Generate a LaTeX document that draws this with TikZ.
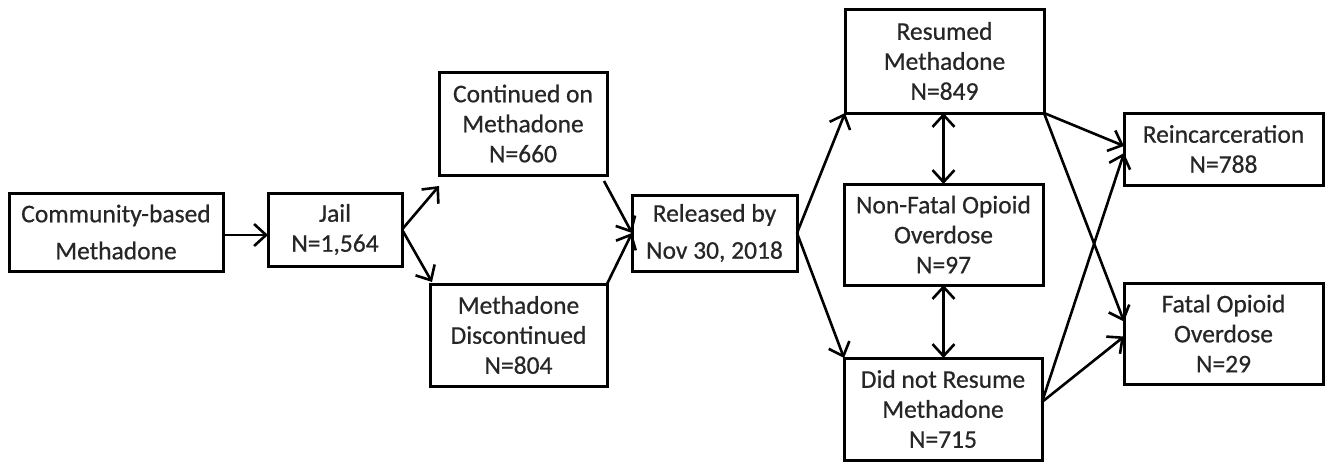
\documentclass[tikz,border=0pt]{standalone}
\usepackage{fontspec}
\setmainfont{Carlito}[FakeBold=0.6]
\usetikzlibrary{arrows.meta}
\begin{document}
\begin{tikzpicture}[x=1pt,y=-1pt,
  box/.style={draw, line width=3pt, inner sep=0pt, outer sep=0pt, align=center,
    text=black!85, font=\fontsize{25.5}{30}\selectfont},
  wide/.style={font=\fontsize{25.5}{37}\selectfont},
  arr/.style={line width=2.6pt, -{Straight Barb[length=12pt,width=22pt]}},
  dbl/.style={line width=2.6pt, {Straight Barb[length=12pt,width=22pt]}-{Straight Barb[length=12pt,width=22pt]}}]
\useasboundingbox (0,0) rectangle (1333,464);
\node[box,wide,minimum width=214pt,minimum height=78pt] (comm) at (116,232) {Community-based\\Methadone};
\node[box,minimum width=134pt,minimum height=73pt] (jail) at (335,229.5) {Jail\\N=1,564};
\node[box,minimum width=168pt,minimum height=103pt] (cont) at (523,123.5) {Continued on\\Methadone\\N=660};
\node[box,minimum width=177pt,minimum height=102pt] (disc) at (518.5,335) {Methadone\\Discontinued\\N=804};
\node[box,wide,minimum width=165pt,minimum height=76pt] (rel) at (714.5,233) {Released by\\Nov 30, 2018};
\node[box,minimum width=199pt,minimum height=104pt] (res) at (944.5,61) {Resumed\\Methadone\\N=849};
\node[box,minimum width=199pt,minimum height=101pt] (nf) at (943.5,234.5) {Non-Fatal Opioid\\Overdose\\N=97};
\node[box,minimum width=198pt,minimum height=102pt] (dnr) at (943,409) {Did not Resume\\Methadone\\N=715};
\node[box,minimum width=199pt,minimum height=72pt] (reinc) at (1223.5,149) {Reincarceration\\N=788};
\node[box,minimum width=199pt,minimum height=101pt] (fatal) at (1223.5,333.5) {Fatal Opioid\\Overdose\\N=29};

\draw[arr] ([yshift=-3pt]comm.east) -- ([yshift=-3pt]comm.east -| jail.west);
\draw[arr] (jail.east) -- ([yshift=-11pt]cont.south west);
\draw[arr] (jail.east) -- ([xshift=2pt,yshift=2pt]disc.north west);
\draw[arr] ([xshift=-3pt,yshift=-6pt]cont.south east) -- (rel.west);
\draw[arr] (disc.north east) -- (rel.west);
\draw[arr] (rel.east) -- (res.south west);
\draw[arr] (rel.east) -- (dnr.north west);
\draw[dbl] (nf.north) -- (nf.north |- res.south);
\draw[dbl] (nf.south) -- (nf.south |- dnr.north);
\draw[arr] (res.south east) -- ([yshift=3pt]reinc.west);
\draw[arr] (res.south east) -- ([yshift=12pt]fatal.west);
\draw[arr] ([yshift=7pt]dnr.east) -- ([yshift=-4pt]reinc.west);
\draw[arr] ([yshift=7pt]dnr.east) -- ([yshift=-3pt]fatal.west);
\end{tikzpicture}
\end{document}
